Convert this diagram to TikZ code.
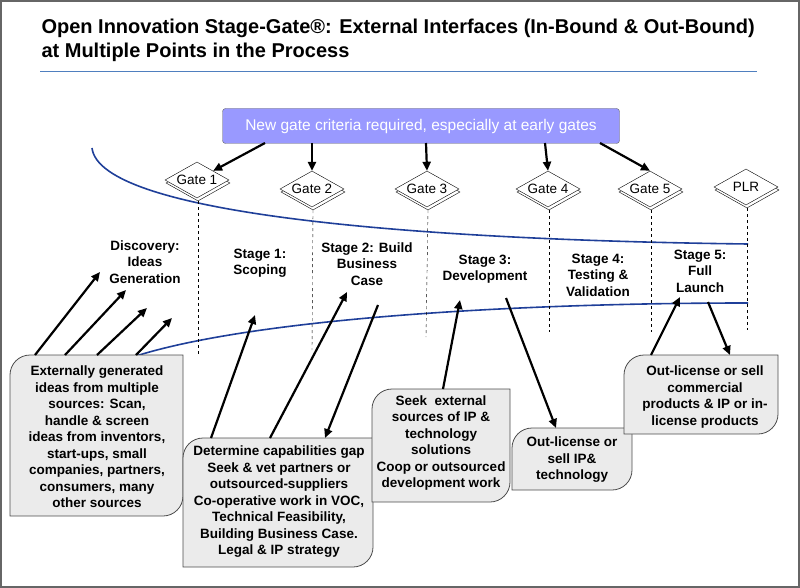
\documentclass[tikz,border=0pt]{standalone}
\usepackage{fontspec}
\setmainfont{Liberation Sans}
\usetikzlibrary{shapes.geometric,arrows.meta}
\definecolor{curveblue}{HTML}{1F3F99}
\definecolor{ruleblue}{HTML}{4F7FBF}
\definecolor{boxgray}{HTML}{EBEBEB}
\definecolor{purp}{HTML}{9999FF}
\tikzset{
 every node/.style={font=\bfseries\fontsize{13.5}{16.5}\selectfont},
 gate/.style={diamond,draw,fill=white,aspect=1.75,minimum width=64pt,minimum height=36pt,inner sep=0pt,font=\fontsize{13.5}{14}\selectfont},
 gshadow/.style={diamond,draw,fill=white,aspect=1.75,minimum width=64pt,minimum height=36pt,inner sep=0pt},
 gline/.style={dashed,thin},
 arr/.style={-{Triangle[length=9pt,width=8pt]},line width=2.2pt},
 curve/.style={curveblue,line width=1.6pt},
 stage/.style={align=center},
 btext/.style={align=center,font=\bfseries\fontsize{13.5}{16.5}\selectfont},
}
\newcommand{\diagbox}[4]{%
 \draw[fill=boxgray,draw=black!70,thick] (#1,#4) -- (#1,#2+20) [rounded corners=20pt] -- (#1,#2) [sharp corners] -- (#3,#2) -- (#3,#4-20) [rounded corners=20pt] -- (#3,#4) [sharp corners] -- (#1,#4) -- cycle;}
\begin{document}
\begin{tikzpicture}[x=1pt,y=-1pt]
\useasboundingbox (0,0) rectangle (800,588);
\draw[black!60,line width=1.5pt] (1,1) rectangle (799,587);
\node[anchor=west,font=\bfseries\fontsize{20}{24}\selectfont,align=left] (title) at (38,40) {Open Innovation Stage-Gate®: External Interfaces (In-Bound \& Out-Bound)\\at Multiple Points in the Process};
\draw[ruleblue,line width=1pt] (40,72) -- (757,72);
\node[draw=black!60,fill=purp,rounded corners=3pt,minimum width=397pt,minimum height=35pt,text=white,font=\fontsize{15.5}{17}\selectfont] (crit) at (421,126) {New gate criteria required, especially at early gates};
\draw[curve] (92,148) .. controls (100,215) and (420,240) .. (748,244);
\draw[curve] (136,356) .. controls (250,320) and (500,303) .. (748,303);
\foreach \n/\x/\y/\t in {g1/197/180/Gate 1,g2/312/189/Gate 2,g3/427/189/Gate 3,g4/548/189/Gate 4,g5/650/189/Gate 5,plr/746/187/PLR}{
 \node[gshadow] at (\x+1,\y+3) {};
 \node[gate] (\n) at (\x,\y) {\t};
}
\draw[gline] (g1.south) ++(1,3) -- (198,355);
\draw[gline] (g2.south) ++(1,3) -- (312,350);
\draw[gline] (g3.south) ++(1,3) -- (426,337);
\draw[gline] (g4.south) ++(1,3) -- (549,332);
\draw[gline] (g5.south) ++(1,3) -- (651,332);
\draw[gline] (plr.south) ++(1,3) -- (747,330);
\coordinate (c1) at (265,143);\coordinate (c2) at (312,143);\coordinate (c3) at (426,143);
\coordinate (c4) at (545,143);\coordinate (c5) at (600,143);
\draw[arr] (c1) -- (g1.north east);
\draw[arr] (c2) -- (g2.north);
\draw[arr] (c3) -- (g3.north);
\draw[arr] (c4) -- (g4.north);
\draw[arr] (c5) -- (g5.north);
\node[stage] (s0) at (145,262) {Discovery:\\Ideas\\Generation};
\node[stage] (s1) at (260,263) {Stage 1:\\Scoping};
\node[stage] (s2) at (367,264) {Stage 2: Build\\Business\\Case};
\node[stage] (s3) at (485,269) {Stage 3:\\Development};
\node[stage] (s4) at (598,275) {Stage 4:\\Testing \&\\Validation};
\node[stage] (s5) at (700,271) {Stage 5:\\Full\\Launch};
\diagbox{10}{355}{183}{516}
\node[btext] (b1) at (97,437) {Externally generated\\ideas from multiple\\sources: Scan,\\handle \& screen\\ideas from inventors,\\start-ups, small\\companies, partners,\\consumers, many\\other sources};
\diagbox{183}{438}{373}{567}
\node[btext] (b2) at (279,502) {Determine capabilities gap\\Seek \& vet partners or\\outsourced-suppliers\\Co-operative work in VOC,\\Technical Feasibility,\\Building Business Case.\\Legal \& IP strategy};
\diagbox{372}{389}{510}{502}
\node[btext] (b3) at (441,443) {Seek~ external\\sources of IP \&\\technology\\solutions\\Coop or outsourced\\development work};
\diagbox{512}{428}{632}{490}
\node[btext] (b4) at (572,460) {Out-license or\\sell IP\&\\technology};
\diagbox{624}{355}{778}{434}
\node[btext] (b5) at (705,397) {Out-license or sell\\commercial\\products \& IP or in-\\license products};
\coordinate (a1) at (35,355);\coordinate (t1) at (100,272);
\coordinate (a2) at (65,355);\coordinate (t2) at (126,290);
\coordinate (a3) at (97,355);\coordinate (t3) at (147,308);
\coordinate (a4) at (136,355);\coordinate (t4) at (172,318);
\coordinate (a5) at (211,438);\coordinate (t5) at (255,315);
\coordinate (a6) at (270,438);\coordinate (t6) at (347,292);
\coordinate (a7) at (378,305);\coordinate (t7) at (325,438);
\coordinate (a8) at (443,389);\coordinate (t8) at (460,300);
\coordinate (a9) at (506,298);\coordinate (t9) at (556,428);
\coordinate (a10) at (651,355);\coordinate (t10) at (680,297);
\coordinate (a11) at (708,302);\coordinate (t11) at (730,355);
\foreach \i in {1,...,11}{\draw[arr] (a\i) -- (t\i);}
\end{tikzpicture}
\end{document}
